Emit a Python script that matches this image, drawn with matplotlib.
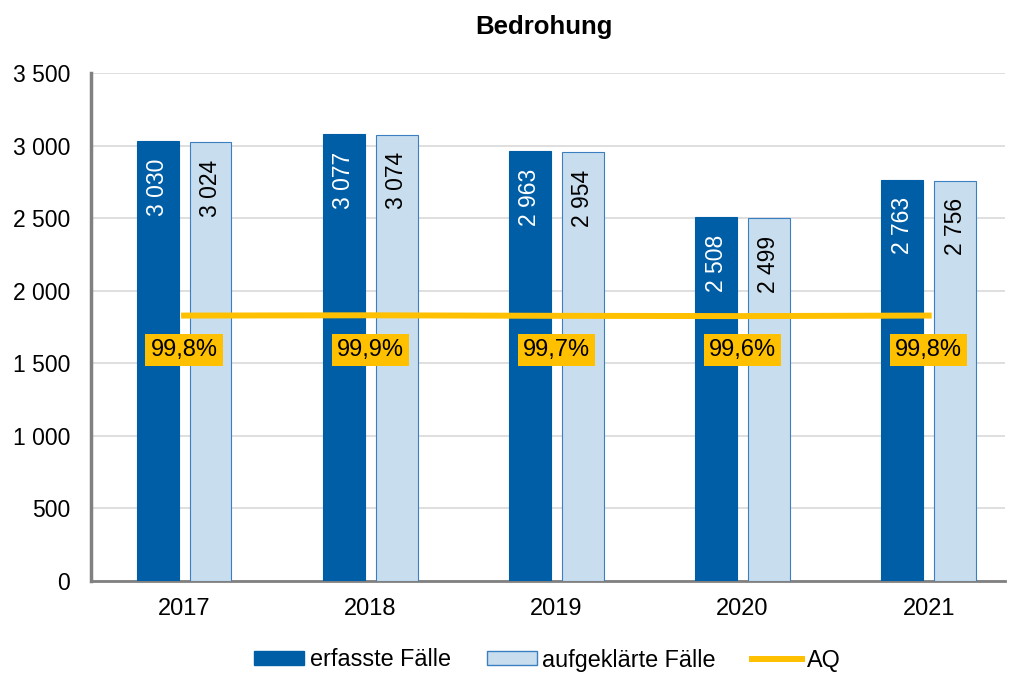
import matplotlib
matplotlib.use("Agg")
import matplotlib.pyplot as plt
from matplotlib.patches import Patch
from matplotlib.lines import Line2D
import numpy as np

plt.rcParams['font.family'] = ['Liberation Sans', 'DejaVu Sans']

years = ["2017", "2018", "2019", "2020", "2021"]
erfasst = [3030, 3077, 2963, 2508, 2763]
aufgeklaert = [3024, 3074, 2954, 2499, 2756]
aq = [99.8, 99.9, 99.7, 99.6, 99.8]
aq_labels = ["99,8%", "99,9%", "99,7%", "99,6%", "99,8%"]
yticks = [0, 500, 1000, 1500, 2000, 2500, 3000, 3500]

dark = "#005EA6"
light = "#C8DEEE"
edge = "#3B7FC0"
yellow = "#FFC000"

def fmt(v):
    return f"{v:,}".replace(",", " ")

fig = plt.figure(figsize=(10.13, 6.73), dpi=100)
ax = fig.add_axes([91/1013, 1-581/673, (1005-91)/1013, (581-73)/673])

x = np.arange(len(years))
w = 0.225
off = 0.142
ax.bar(x - off, erfasst, w, color=dark, edgecolor=dark, linewidth=0.8, zorder=3)
ax.bar(x + off, aufgeklaert, w, color=light, edgecolor=edge, linewidth=0.8, zorder=3)

for xi, v in zip(x, erfasst):
    ax.annotate(fmt(v), (xi - off, v), xytext=(0, -12.5), textcoords="offset points",
                rotation=90, ha="center", va="top", color="white", fontsize=16.5, zorder=5)
for xi, v in zip(x, aufgeklaert):
    ax.annotate(fmt(v), (xi + off, v), xytext=(0, -12.5), textcoords="offset points",
                rotation=90, ha="center", va="top", color="black", fontsize=16.5, zorder=5)

ax.set_ylim(0, 3500)
ax.set_xlim(-0.5, 4.41)
ax.set_yticks(yticks)
ax.set_yticklabels([fmt(t) for t in yticks], fontsize=16.5)
ax.set_xticks(x)
ax.set_xticklabels(years, fontsize=17)
ax.tick_params(axis="y", length=0, pad=15)
ax.tick_params(axis="x", length=0, pad=12)
ax.grid(axis="y", color="#D9D9D9", linewidth=1.2, zorder=0)
ax.set_axisbelow(True)
for s in ["top", "right"]:
    ax.spines[s].set_visible(False)
ax.spines["left"].set_color("#808080")
ax.spines["left"].set_linewidth(2.5)
ax.spines["bottom"].set_color("#808080")
ax.spines["bottom"].set_linewidth(2)

ax2 = ax.twinx()
ax2.set_ylim(0, 191)
ax2.plot(x, aq, color=yellow, linewidth=4.3, zorder=4)
ax2.set_yticks([])
for s in ax2.spines.values():
    s.set_visible(False)

for xi, lab in zip(x, aq_labels):
    ax2.annotate(lab, (xi, 99.8), xytext=(0, -25), textcoords="offset points",
                 ha="center", va="center", fontsize=17, color="black",
                 bbox=dict(boxstyle="square,pad=0.22", facecolor=yellow, edgecolor="none"), zorder=6)

fig.text(544/1013, 1 - 27/673, "Bedrohung", ha="center", va="center", fontsize=18.5, fontweight="bold")

handles = [Patch(facecolor=dark, edgecolor=dark),
           Patch(facecolor=light, edgecolor=edge),
           Line2D([0], [0], color=yellow, linewidth=4.3)]
fig.legend(handles, ["erfasste Fälle", "aufgeklärte Fälle", "AQ"], loc="center",
           bbox_to_anchor=(547.5/1013, 1 - 660/673), ncol=3, frameon=False, fontsize=16.8,
           handlelength=2.15, handleheight=0.52, handletextpad=0.22, columnspacing=1.55)

fig.savefig("out.png", dpi=100)
